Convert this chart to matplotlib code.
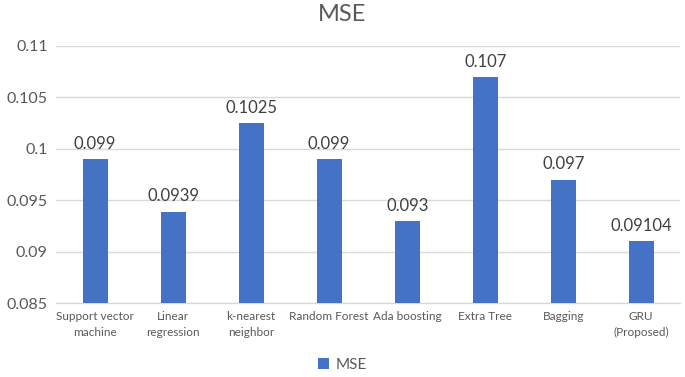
import matplotlib.pyplot as plt

METHODS = [
    "Support vector\nmachine",
    "Linear\nregression",
    "k-nearest\nneighbor",
    "Random Forest",
    "Ada boosting",
    "Extra Tree",
    "Bagging",
    "GRU\n(Proposed)",
]
MSE_VALUES = [0.099, 0.0939, 0.1025, 0.099, 0.093, 0.107, 0.097, 0.09104]
VALUE_LABELS = ["0.099", "0.0939", "0.1025", "0.099", "0.093", "0.107", "0.097", "0.09104"]
Y_TICKS = [0.085, 0.09, 0.095, 0.1, 0.105, 0.11]
Y_TICK_LABELS = ["0.085", "0.09", "0.095", "0.1", "0.105", "0.11"]

BAR_COLOR = "#4472C4"
TEXT_COLOR = "#595959"
GRID_COLOR = "#D9D9D9"

plt.rcParams["font.family"] = ["Lato", "DejaVu Sans"]

fig = plt.figure(figsize=(6.85, 3.77), dpi=100)
ax = fig.add_axes([0.082, 0.196, 0.911, 0.682])

x = list(range(len(METHODS)))
bars = ax.bar(x, [v - 0.085 for v in MSE_VALUES], bottom=0.085, width=0.32,
              color=BAR_COLOR, label="MSE", zorder=3)

for xi, v, lab in zip(x, MSE_VALUES, VALUE_LABELS):
    ax.text(xi, v + 0.0007, lab, ha="center", va="bottom",
            fontsize=12, color="#404040")

ax.set_xlim(-0.5, len(METHODS) - 0.5)
ax.set_ylim(0.085, 0.11)
ax.set_yticks(Y_TICKS)
ax.set_yticklabels(Y_TICK_LABELS, fontsize=11.5, color=TEXT_COLOR)
ax.set_xticks(x)
ax.set_xticklabels(METHODS, fontsize=8.5, color=TEXT_COLOR, linespacing=1.5)
ax.tick_params(axis="both", length=0)
ax.tick_params(axis="y", pad=6)
ax.tick_params(axis="x", pad=6)

ax.grid(axis="y", color=GRID_COLOR, linewidth=1, zorder=0)
for side in ["top", "right", "left"]:
    ax.spines[side].set_visible(False)
ax.spines["bottom"].set_color(GRID_COLOR)
ax.spines["bottom"].set_linewidth(1)

fig.text(0.5, 0.962, "MSE", ha="center", va="center", fontsize=17, color=TEXT_COLOR)

fig.legend(handles=[bars], labels=["MSE"], loc="center", bbox_to_anchor=(0.5, 0.032),
           frameon=False, fontsize=11, handlelength=0.7, handleheight=0.7,
           handletextpad=0.4, labelcolor=TEXT_COLOR)

fig.savefig("out.png", dpi=100)
